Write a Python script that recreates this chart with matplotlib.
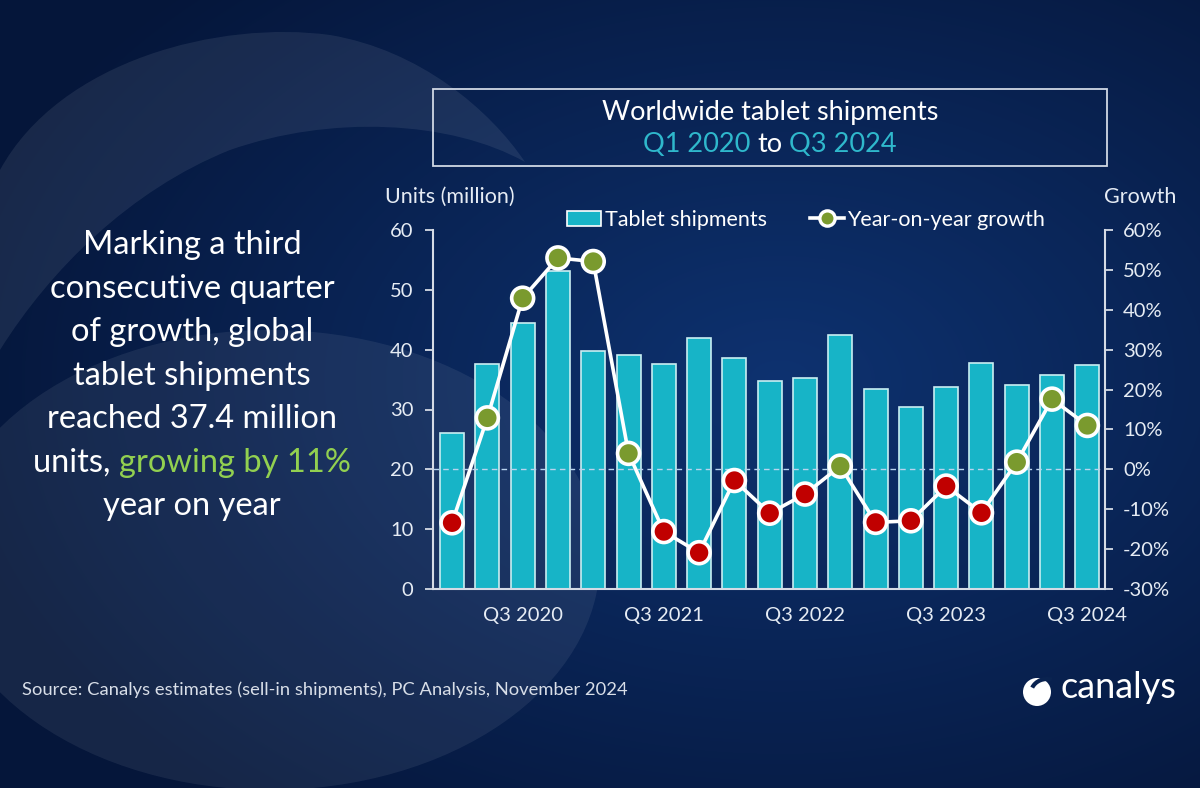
import numpy as np
import matplotlib.pyplot as plt
import matplotlib.patches as mpatches
from matplotlib.path import Path
from matplotlib.lines import Line2D

plt.rcParams['font.family'] = ['Lato', 'DejaVu Sans']

quarters = ["Q1 2020", "Q2 2020", "Q3 2020", "Q4 2020",
            "Q1 2021", "Q2 2021", "Q3 2021", "Q4 2021",
            "Q1 2022", "Q2 2022", "Q3 2022", "Q4 2022",
            "Q1 2023", "Q2 2023", "Q3 2023", "Q4 2023",
            "Q1 2024", "Q2 2024", "Q3 2024"]
shipments = [26.1, 37.6, 44.5, 53.1, 39.7, 39.1, 37.6, 41.9, 38.6, 34.7,
             35.2, 42.4, 33.4, 30.5, 33.8, 37.7, 34.1, 35.7, 37.4]
growth = [-13.4, 12.9, 42.9, 53.0, 52.1, 4.0, -15.6, -20.9, -2.8, -11.0,
          -6.2, 0.8, -13.3, -12.9, -4.2, -10.9, 1.8, 17.6, 11.0]
shown_ticks = ["Q3 2020", "Q3 2021", "Q3 2022", "Q3 2023", "Q3 2024"]
left_ticks = [0, 10, 20, 30, 40, 50, 60]
right_ticks = [-30, -20, -10, 0, 10, 20, 30, 40, 50, 60]

CYAN = '#17b4c7'
GREEN = '#7a9a2e'
RED = '#c00000'
TXT = '#e6ecf4'

W, H = 1200, 788
fig = plt.figure(figsize=(12, 7.88), dpi=100)

# background, in pixel coordinates
bg = fig.add_axes([0, 0, 1, 1])
bg.set_xlim(0, W)
bg.set_ylim(H, 0)
bg.axis('off')

yy, xx = np.mgrid[0:H, 0:W]
d = np.sqrt(((xx - 780) / 850) ** 2 + ((yy - 380) / 560) ** 2)
t = np.clip(d, 0, 1)[..., None]
inner = np.array([14, 50, 112]) / 255
outer = np.array([5, 22, 58]) / 255
bg.imshow(inner * (1 - t) + outer * t, extent=(0, W, H, 0), aspect='auto', zorder=0)

swoosh = Path([(0, 170), (60, 60), (220, 20), (330, 35),
               (420, 50), (490, 110), (525, 162),
               (450, 120), (330, 115), (230, 150),
               (130, 190), (50, 270), (0, 350), (0, 170)],
              [Path.MOVETO] + [Path.CURVE4] * 12 + [Path.CLOSEPOLY])
bg.add_patch(mpatches.PathPatch(swoosh, fc='white', ec='none', alpha=0.08, zorder=1))
bg.add_patch(mpatches.Ellipse((270, 560), 660, 460, fc='white', ec='none', alpha=0.07, zorder=1))

# title box
bg.add_patch(mpatches.Rectangle((433, 89), 674, 77, fill=False, ec='#d0d8e4', lw=1.3, zorder=2))

fig.canvas.draw()
renderer = fig.canvas.get_renderer()


def text_width(s, size):
    tt = bg.text(0, 0, s, fontsize=size)
    w = tt.get_window_extent(renderer).width
    tt.remove()
    return w


def rich_line(cx, y, parts, size):
    full = "".join(s for s, _ in parts)
    x0 = cx - text_width(full, size) / 2
    prefix = ""
    for s, c in parts:
        off = text_width(prefix + "|", size) - text_width("|", size) if prefix else 0
        bg.text(x0 + off, y, s, fontsize=size, color=c, ha='left', va='baseline', zorder=3)
        prefix += s


rich_line(770, 120, [("Worldwide tablet shipments", 'white')], 19.5)
rich_line(770, 152, [("Q1 2020 ", '#2fb8cc'), ("to", 'white'), (" Q3 2024", '#2fb8cc')], 19.5)

left_lines = [
    [("Marking a third", 'white')],
    [("consecutive quarter", 'white')],
    [("of growth, global", 'white')],
    [("tablet shipments", 'white')],
    [("reached 37.4 million", 'white')],
    [("units, ", 'white'), ("growing by 11%", '#92d050')],
    [("year on year", 'white')],
]
for i, parts in enumerate(left_lines):
    rich_line(192, 254 + 43.5 * i, parts, 23.5)

bg.text(385, 197, "Units (million)", fontsize=15.5, color=TXT, ha='left', va='center')
bg.text(1176, 197, "Growth", fontsize=15.5, color=TXT, ha='right', va='center')
bg.text(22, 690, "Source: Canalys estimates (sell-in shipments), PC Analysis, November 2024",
        fontsize=13.2, color='#d8dee8', ha='left', va='center')
bg.text(1061, 688, "canalys", fontsize=26, color='white', ha='left', va='center')
bg.add_patch(mpatches.Circle((1037, 692), 14, fc='white', ec='none', zorder=3))
bg.add_patch(mpatches.Arc((1047, 693), 32, 28, theta1=200, theta2=290, ec='#0a2350', lw=3, zorder=4))

# chart
ax = fig.add_axes([433 / W, 1 - 589 / H, (1105 - 433) / W, (589 - 230) / H])
ax.patch.set_alpha(0)
x = np.arange(len(quarters))
ax.bar(x, shipments, width=0.68, color=CYAN, edgecolor='#c9eef2', linewidth=1.2)
ax.set_xlim(-0.54, 18.5)
ax.set_ylim(0, 60)
ax.set_yticks(left_ticks)
ax.set_xticks([quarters.index(q) for q in shown_ticks], shown_ticks)
ax.tick_params(axis='x', length=0, pad=13, labelsize=14.5, labelcolor=TXT)
ax.tick_params(axis='y', length=6, width=1.3, pad=8, labelsize=14.5, color='#d5dbe5', labelcolor=TXT)
for s in ['top', 'right']:
    ax.spines[s].set_visible(False)
for s in ['left', 'bottom']:
    ax.spines[s].set_color('#d5dbe5')
    ax.spines[s].set_linewidth(1.5)

ax2 = ax.twinx()
ax2.set_ylim(-30, 60)
ax2.set_yticks(right_ticks, [f"{v}%" for v in right_ticks])
ax2.tick_params(axis='y', length=6, width=1.3, pad=7, labelsize=14.5, color='#d5dbe5', labelcolor=TXT)
for s in ['top', 'left', 'bottom']:
    ax2.spines[s].set_visible(False)
ax2.spines['right'].set_color('#d5dbe5')
ax2.spines['right'].set_linewidth(1.5)

ax2.axhline(0, color='#b9d3ee', lw=1, ls=(0, (4, 3)), zorder=1)
ax2.plot(x, growth, color='white', lw=2.6, zorder=3)
ax2.scatter(x, growth, s=250, c=[GREEN if g >= 0 else RED for g in growth],
            edgecolors='white', linewidths=2.6, zorder=4)

handles = [mpatches.Patch(fc=CYAN, ec='white', lw=1.2),
           Line2D([0], [0], color='white', lw=2.6, marker='o', ms=11,
                  mfc=GREEN, mec='white', mew=2.4)]
fig.legend(handles, ["Tablet shipments", "Year-on-year growth"], ncol=2,
           loc='center', bbox_to_anchor=(806 / W, 1 - 220 / H),
           frameon=False, fontsize=15.5, labelcolor='white',
           handlelength=1.6, handletextpad=0.15, columnspacing=2.0)

fig.savefig('out.png', dpi=100)
